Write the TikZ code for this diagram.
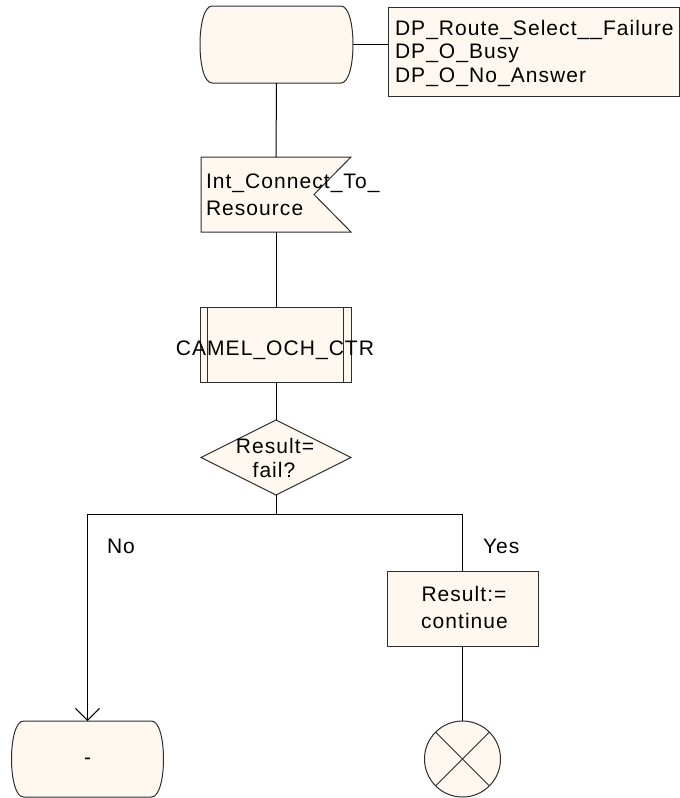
\documentclass[tikz,border=0pt]{standalone}
\usepackage{fontspec}
\setmainfont{Liberation Sans}[LetterSpace=5]
\usetikzlibrary{arrows.meta}
\definecolor{sdlfill}{RGB}{255,248,240}
\definecolor{sdlline}{RGB}{45,45,45}

\begin{document}
\begin{tikzpicture}[x=1pt,y=-1pt,
  every node/.style={inner sep=0pt, outer sep=0pt},
  frame/.style={rectangle, draw=none, minimum width=#1},
  outline/.style={draw=sdlline, line width=1pt, fill=sdlfill},
  flow/.style={draw=black, line width=1pt},
  lbl/.style={font=\fontsize{21}{24}\selectfont, anchor=base},
  lblw/.style={font=\fontsize{21}{24}\selectfont, anchor=base west},
  openhead/.style={-{Straight Barb[length=12pt,width=24pt,line width=1pt]}}
]
\useasboundingbox (0,0) rectangle (680,798);

% start state
\node[frame=153, minimum height=77] (start) at (276.5,44.5) {};
\draw[outline] ([xshift=12]start.north west) -- ([xshift=-12]start.north east)
  .. controls ([xshift=4]start.north east) and ([xshift=4]start.south east) .. ([xshift=-12]start.south east)
  -- ([xshift=12]start.south west)
  .. controls ([xshift=-4]start.south west) and ([xshift=-4]start.north west) .. cycle;

% comment with the detection points
\node[rectangle, outline, minimum width=291, minimum height=89] (note) at (533.5,51.5) {};
\node[lblw] (n1) at (395,35) {DP\_Route\_Select\_\_Failure};
\node[lblw] (n2) at (395,58.5) {DP\_O\_Busy};
\node[lblw] (n3) at (395,82) {DP\_O\_No\_Answer};

% signal input
\node[frame=150, minimum height=75] (sig) at (276,194.5) {};
\draw[outline] (sig.north west) -- (sig.north east) -- ([xshift=-37]sig.east)
  -- (sig.south east) -- (sig.south west) -- cycle;
\node[lblw] (s1) at (206,188) {Int\_Connect\_To\_};
\node[lblw] (s2) at (206,215) {Resource};

% procedure call
\node[rectangle, outline, minimum width=151, minimum height=75] (proc) at (276,344.5) {};
\draw[line width=1pt, draw=sdlline] ([xshift=7]proc.north west) -- ([xshift=7]proc.south west);
\draw[line width=1pt, draw=sdlline] ([xshift=-8]proc.north east) -- ([xshift=-8]proc.south east);
\node[lbl] (p1) at (275,355) {CAMEL\_OCH\_CTR};

% decision
\node[frame=150, minimum height=75] (dec) at (276,457.5) {};
\draw[outline] (dec.north) -- (dec.east) -- (dec.south) -- (dec.west) -- cycle;
\node[lbl] (d1) at (275,453) {Result=};
\node[lbl] (d2) at (274,477) {fail?};

% task
\node[rectangle, outline, minimum width=151, minimum height=75] (task) at (462.5,608.5) {};
\node[lbl] (t1) at (464,601.7) {Result:=};
\node[lbl] (t2) at (464.5,628) {continue};

% end state
\node[frame=152, minimum height=76] (endst) at (87.5,759) {};
\draw[outline] ([xshift=12]endst.north west) -- ([xshift=-12]endst.north east)
  .. controls ([xshift=4]endst.north east) and ([xshift=4]endst.south east) .. ([xshift=-12]endst.south east)
  -- ([xshift=12]endst.south west)
  .. controls ([xshift=-4]endst.south west) and ([xshift=-4]endst.north west) .. cycle;
\node[lbl] (e1) at (87.5,764) {-};

% stop
\node[circle, outline, minimum size=76] (stop) at (462.5,759) {};
\draw[line width=1pt, draw=sdlline] (stop.north west) -- (stop.south east);
\draw[line width=1pt, draw=sdlline] (stop.north east) -- (stop.south west);

% branch labels
\node[lblw] (no) at (107,553) {No};
\node[lblw] (yes) at (483,553) {Yes};

% connectors
\coordinate (split) at (276,514);
\draw[flow] (start.east) -- (start.east -| note.west);
\draw[flow] (start.south) -- (sig.north);
\draw[flow] (sig.south) -- (proc.north);
\draw[flow] (proc.south) -- (dec.north);
\draw[flow] (dec.south) -- (split);
\draw[flow, openhead] (split) -| (endst.north);
\draw[flow] (split) -| (task.north);
\draw[flow] (task.south) -- (stop.north);
\end{tikzpicture}
\end{document}
